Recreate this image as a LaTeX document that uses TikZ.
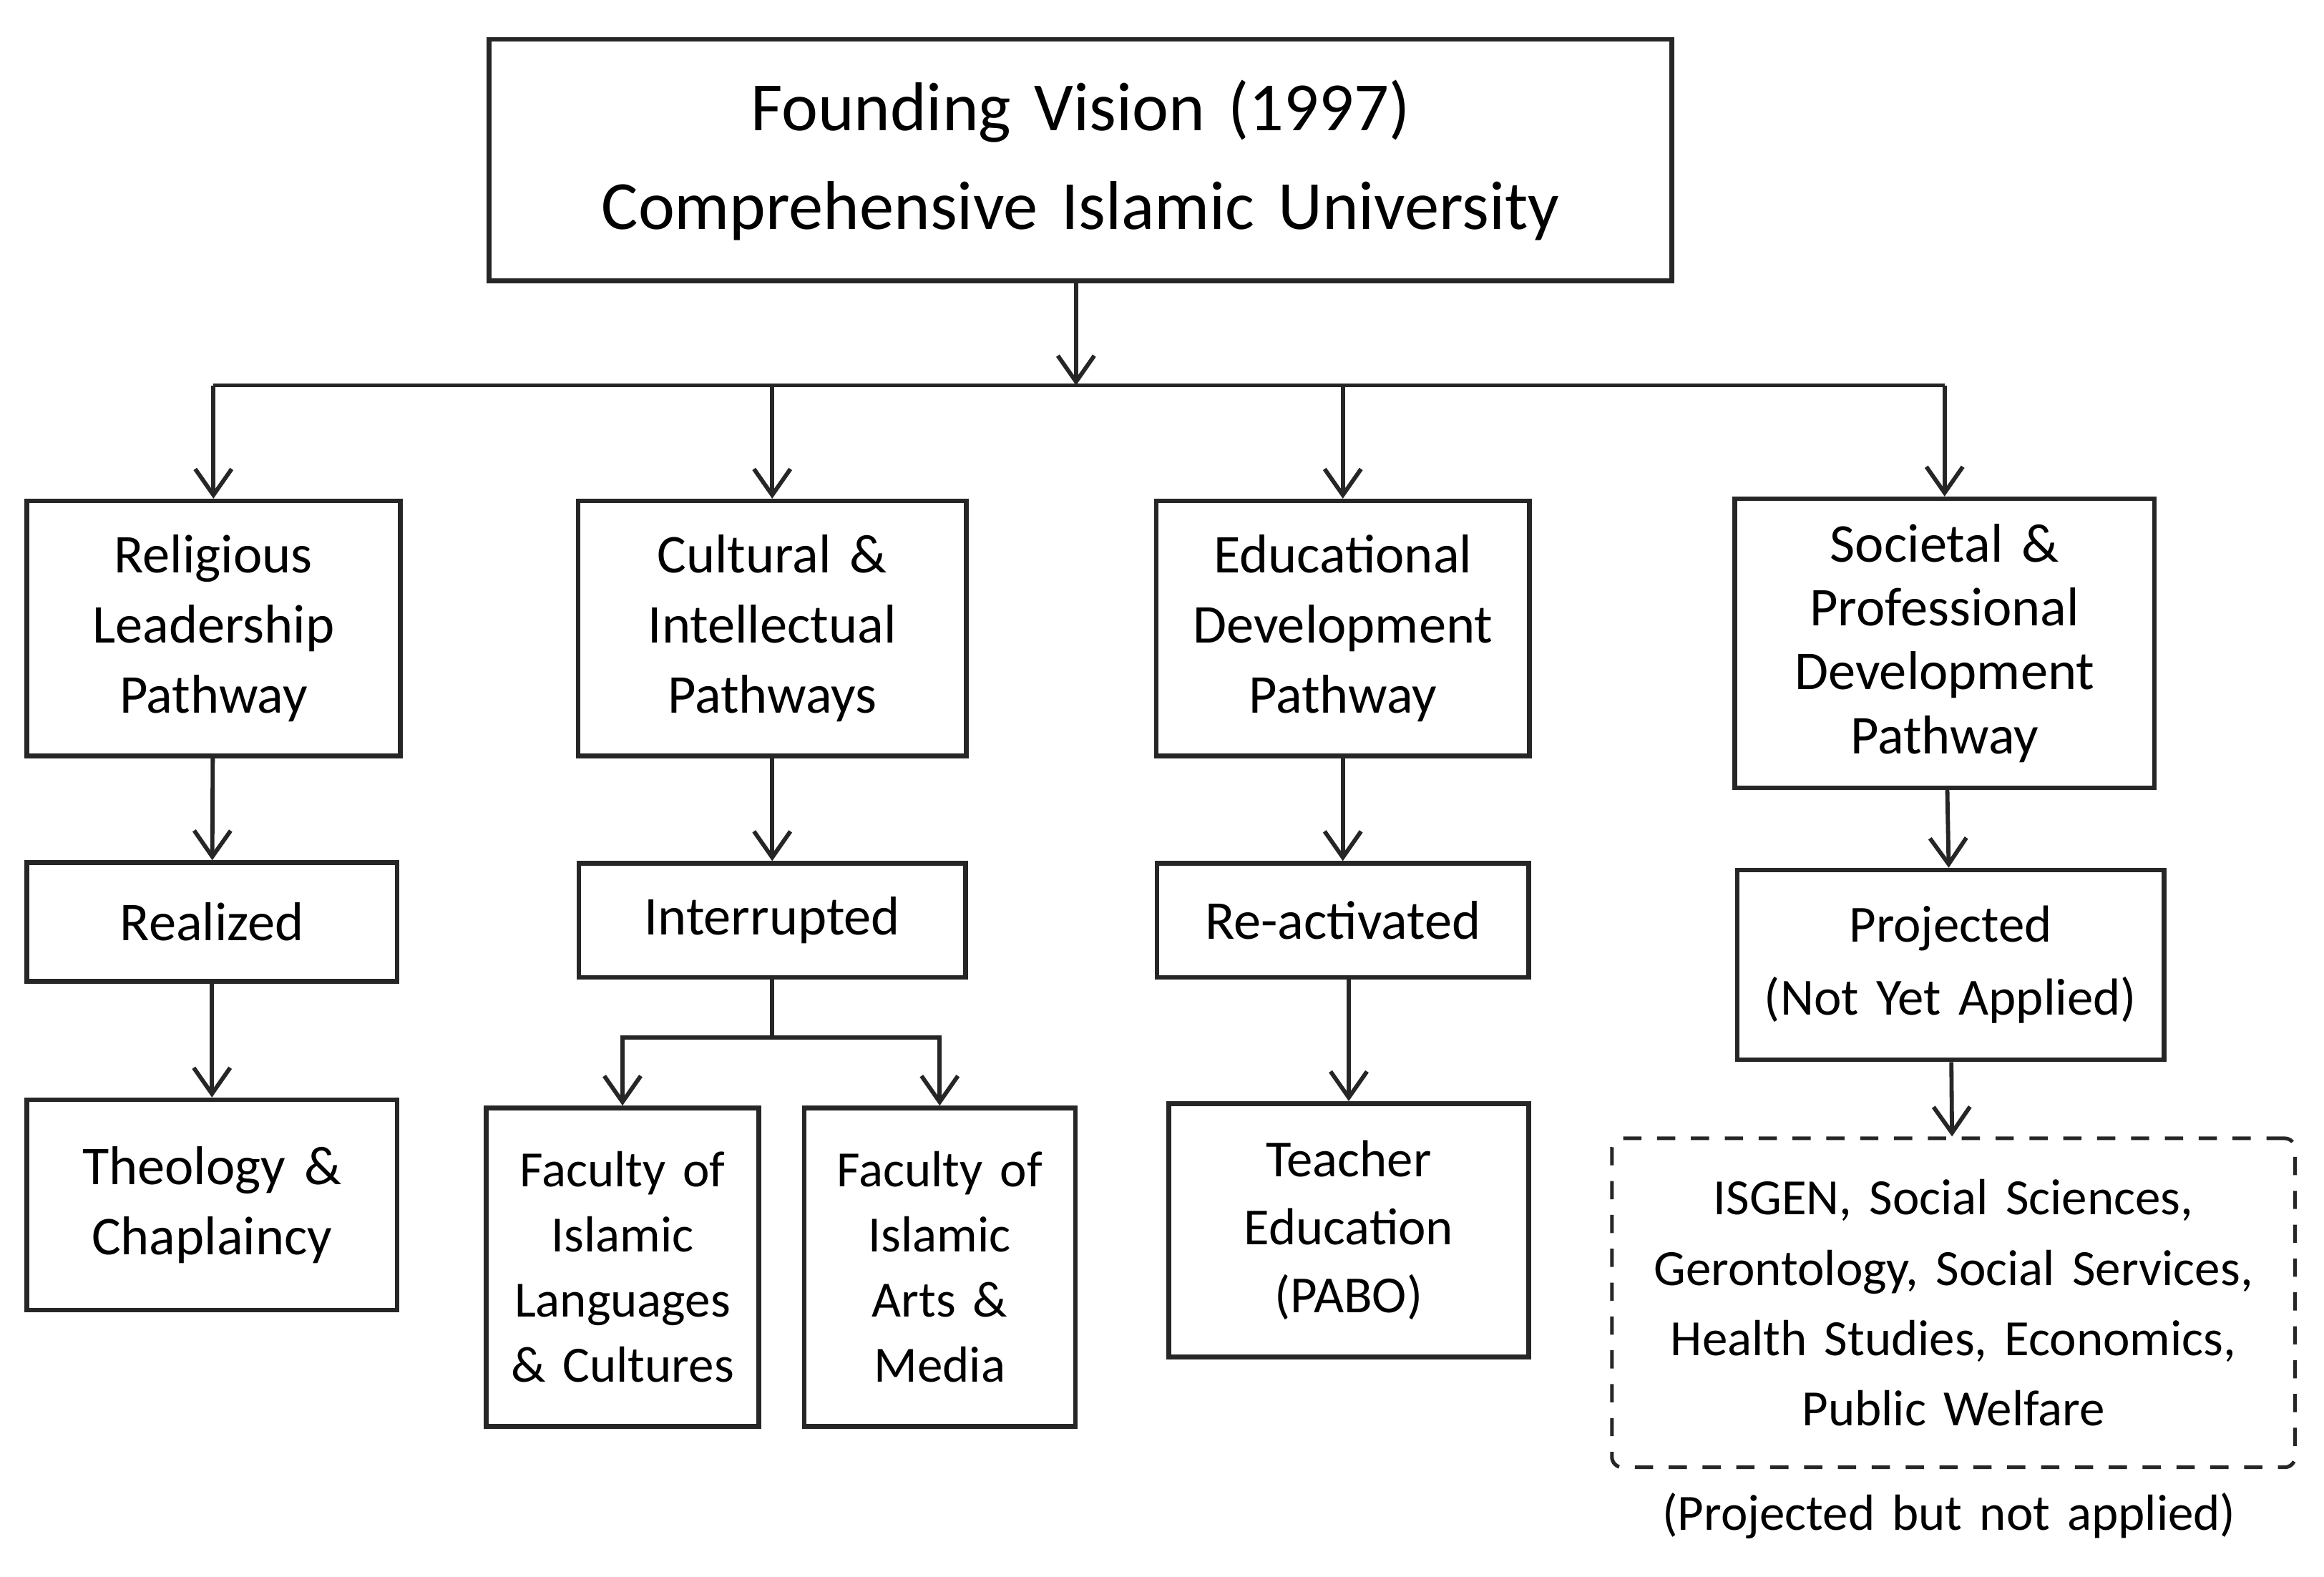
\documentclass[tikz,border=0pt]{standalone}
\usepackage{fontspec}
\setmainfont{Carlito}[WordSpace=1.5]
\usetikzlibrary{arrows.meta}

\tikzset{
  box/.style={shape=rectangle,draw=black!85,line width=1.8pt,align=center,
    inner sep=2pt,font=\fontsize{21}{27}\selectfont},
  small/.style={font=\fontsize{19.5}{25}\selectfont},
  dashbox/.style={box,line width=1.4pt,dashed,dash pattern=on 7pt off 6pt,rounded corners=4pt},
  link/.style={draw=black!85,line width=1.6pt,
    -{Straight Barb[length=10pt,width=14pt,line width=1.6pt]}},
  plain/.style={draw=black!85,line width=1.6pt},
}

\begin{document}
\begin{tikzpicture}[x=0.02cm,y=-0.02cm]
  \useasboundingbox (0,0) rectangle (1568,1064);

  \node[box,minimum width=15.96cm,minimum height=3.26cm,
    font=\fontsize{26.5}{38}\selectfont] (vision) at (729,108)
    {Founding Vision (1997)\\Comprehensive Islamic University};

  \node[box,minimum width=5.04cm,minimum height=3.44cm] (relig) at (144,424) {Religious\\Leadership\\Pathway};
  \node[box,minimum width=5.24cm,minimum height=3.44cm] (cult) at (521,424) {Cultural \&\\Intellectual\\Pathways};
  \node[box,minimum width=5.04cm,minimum height=3.44cm] (edu) at (906,424) {Educational\\Development\\Pathway};
  \node[box,minimum width=5.66cm,minimum height=3.9cm,
    font=\fontsize{21}{24.5}\selectfont] (soc) at (1312,434) {Societal \&\\Professional\\Development\\Pathway};

  \node[box,minimum width=5.0cm,minimum height=1.6cm] (realized) at (143,622) {Realized};
  \node[box,minimum width=5.22cm,minimum height=1.54cm] (interr) at (521,621) {Interrupted};
  \node[box,minimum width=5.02cm,minimum height=1.54cm] (react) at (906,621) {Re-activated};
  \node[box,small,minimum width=5.76cm,minimum height=2.56cm,
    font=\fontsize{20}{28}\selectfont] (proj) at (1316,651) {Projected\\(Not Yet Applied)};

  \node[box,minimum width=5.0cm,minimum height=2.84cm] (theol) at (143,813) {Theology \&\\Chaplaincy};
  \node[box,small,minimum width=3.68cm,minimum height=4.3cm] (langs) at (420,855) {Faculty of\\Islamic\\Languages\\\& Cultures};
  \node[box,small,minimum width=3.66cm,minimum height=4.3cm] (arts) at (634,855) {Faculty of\\Islamic\\Arts \&\\Media};
  \node[box,minimum width=4.86cm,minimum height=3.42cm,
    font=\fontsize{20}{26}\selectfont] (teach) at (910,830) {Teacher\\Education\\(PABO)};
  \node[dashbox,small,minimum width=9.22cm,minimum height=4.44cm,
    font=\fontsize{19.5}{27}\selectfont] (fields) at (1318,879)
    {ISGEN, Social Sciences,\\Gerontology, Social Services,\\Health Studies, Economics,\\Public Welfare};
  \node[small] (note) at (1315,1023) {(Projected but not applied)};

  % branching from the founding vision
  \coordinate (bus) at (726,260);
  \coordinate (busl) at (relig.north |- bus);
  \coordinate (busr) at (soc.north |- bus);
  \path (vision.south -| bus) edge[link] (bus);
  \draw[plain] (busl) -- (busr);
  \path (busl) edge[link] (relig.north);
  \path (cult.north |- bus) edge[link] (cult.north);
  \path (edu.north |- bus) edge[link] (edu.north);
  \path (busr) edge[link] (soc.north);

  \path (relig) edge[link] (realized);
  \path (realized) edge[link] (theol);
  \path (cult) edge[link] (interr);
  \path (edu) edge[link] (react);
  \path (react.south -| teach.north) edge[link] (teach.north);
  \path (soc) edge[link] (proj);
  \path (proj) edge[link] (fields);

  % split of the interrupted pathway
  \coordinate (fork) at (521,700);
  \draw[plain] (interr.south) -- (fork);
  \draw[link] (fork) -| (langs.north);
  \draw[link] (fork) -| (arts.north);
\end{tikzpicture}
\end{document}
